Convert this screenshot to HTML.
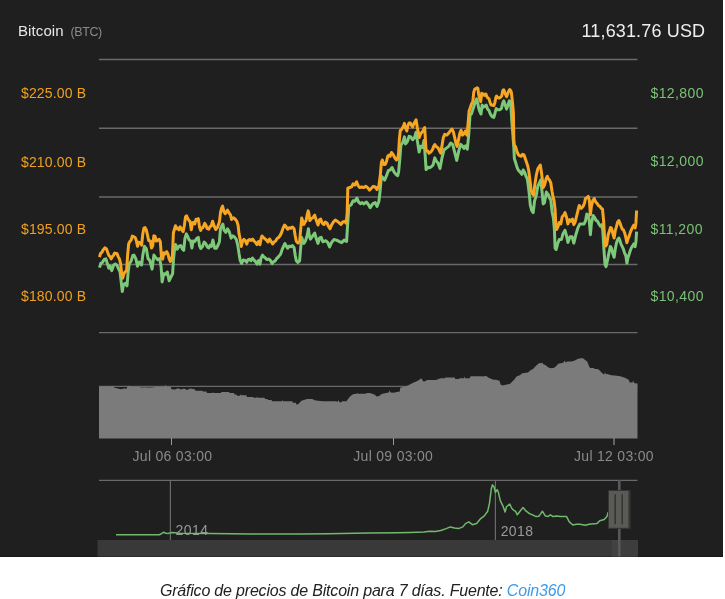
<!DOCTYPE html>
<html><head><meta charset="utf-8">
<style>
html,body{margin:0;padding:0;background:#fff;}
body{width:725px;height:599px;position:relative;overflow:hidden;font-family:"Liberation Sans",sans-serif;}
#panel{position:absolute;left:0;top:0;width:723px;height:556px;background:#1f1f1f;border-bottom:1px solid #161616;}
svg{position:absolute;left:0;top:0;will-change:transform;}
.cap{position:absolute;left:0;width:725px;top:581.7px;letter-spacing:-0.19px;text-align:center;font-style:italic;font-size:16px;color:#222;white-space:nowrap;}
.cap span{color:#3d9be9;}
</style></head>
<body>
<div id="panel"></div>
<svg width="725" height="599" viewBox="0 0 725 599" font-family="Liberation Sans, sans-serif">
  <g stroke="#6a6a6a" stroke-width="1.4">
    <line x1="99" y1="59.5" x2="637.5" y2="59.5"/>
    <line x1="99" y1="128.3" x2="637.5" y2="128.3"/>
    <line x1="99" y1="197" x2="637.5" y2="197"/>
    <line x1="99" y1="264.5" x2="637.5" y2="264.5"/>
    <line x1="99" y1="332.6" x2="637.5" y2="332.6"/>
  </g>
  <text x="18" y="35.8" fill="#e6e6e6" font-size="15" letter-spacing="0.1">Bitcoin</text>
  <text x="70.6" y="35.8" fill="#8a8a8a" font-size="12.5" letter-spacing="-0.45">(BTC)</text>
  <text x="581.5" y="36.6" fill="#eeeeee" font-size="18" letter-spacing="0.15">11,631.76 USD</text>
  <g fill="#f0a020" font-size="14" letter-spacing="0.15">
    <text x="21" y="98">$225.00 B</text>
    <text x="21" y="166.7">$210.00 B</text>
    <text x="21" y="234.2">$195.00 B</text>
    <text x="21" y="301.3">$180.00 B</text>
  </g>
  <g fill="#7ac276" font-size="14" letter-spacing="0.4">
    <text x="650.5" y="97.9">$12,800</text>
    <text x="650.5" y="166.3">$12,000</text>
    <text x="650.5" y="233.9">$11,200</text>
    <text x="650.5" y="301.3">$10,400</text>
  </g>
  <polyline points="99.5,267.7 100.7,263.6 102.4,262.4 104.2,259.5 105.9,258.9 107.7,264.7 108.9,268.2 110.0,265.9 111.8,270.6 113.5,265.3 115.3,264.1 117.0,265.3 118.8,269.4 120.0,271.7 121.1,281.1 122.3,291.6 123.5,284.6 125.2,283.4 127.0,285.8 128.2,271.7 129.3,263.6 131.1,261.2 132.8,255.4 134.0,255.1 135.8,258.6 137.5,266.2 139.3,262.1 141.6,265.0 142.8,255.1 144.5,246.3 146.3,248.6 148.0,258.6 149.8,260.3 152.1,269.1 153.9,255.1 155.6,257.4 157.4,259.7 159.7,258.6 161.1,266.7 162.1,281.9 163.8,273.8 165.6,274.3 167.3,272.0 169.1,280.8 170.8,277.3 172.6,273.8 173.5,259.7 174.3,251.4 175.5,244.4 177.3,249.1 179.0,246.2 180.8,245.6 182.5,249.1 183.7,250.3 184.9,238.6 186.3,233.9 187.8,236.8 189.0,239.7 190.7,240.9 191.9,247.9 193.1,240.9 194.8,241.5 196.6,238.6 198.3,237.4 199.5,245.6 200.7,248.5 202.4,246.7 204.2,242.1 205.9,243.8 207.1,246.7 208.8,247.9 210.0,245.3 211.4,246.4 212.9,240.0 214.7,248.2 216.4,248.2 218.2,244.7 219.4,241.7 220.5,228.9 221.7,226.0 222.9,224.2 224.0,230.1 225.8,232.4 227.5,228.9 229.3,231.8 231.1,238.2 232.8,235.9 234.6,237.1 236.3,239.4 237.8,245.3 239.0,253.4 240.2,260.4 241.6,263.4 243.3,259.9 245.1,260.4 246.8,262.2 248.0,259.6 249.5,259.1 251.0,260.6 252.5,258.1 254.0,260.1 255.5,261.6 257.0,264.1 258.5,260.6 260.0,264.1 261.0,258.1 262.5,255.1 264.0,257.1 265.5,258.1 267.0,259.6 268.6,259.1 270.1,260.1 272.1,263.6 273.6,261.6 275.1,261.1 276.6,258.6 278.6,256.6 280.6,254.1 282.1,249.6 283.6,246.1 284.9,243.5 286.0,245.6 287.6,248.3 289.3,246.1 290.9,246.7 292.5,245.6 294.1,247.7 295.2,255.3 296.3,260.8 297.9,262.4 299.6,260.8 300.6,248.8 301.7,237.4 302.8,240.7 303.9,243.4 305.5,240.7 307.1,235.8 308.4,228.8 309.3,235.8 310.4,239.1 312.0,236.9 313.6,234.7 314.7,233.1 316.4,239.1 318.0,243.4 319.6,238.0 321.2,237.4 322.9,241.8 324.0,241.4 325.9,240.7 327.8,242.6 329.6,247.0 331.5,242.6 334.0,239.5 336.5,240.1 339.0,241.4 341.6,242.6 344.1,240.1 346.6,241.4 347.6,225.1 348.8,206.3 351.0,205.0 353.1,200.7 354.7,201.3 356.9,198.2 358.5,201.9 360.4,203.8 362.0,202.6 363.9,203.9 366.4,202.0 368.3,204.5 370.2,207.6 372.7,203.9 375.2,202.6 377.0,206.4 378.9,201.3 380.2,190.1 381.4,176.3 382.7,177.6 384.6,180.1 386.5,175.7 388.3,170.7 390.2,170.0 392.1,167.5 394.0,171.9 395.9,174.4 397.7,175.7 398.6,172.0 399.8,159.1 400.9,145.1 402.7,142.7 404.4,136.9 405.6,143.9 407.4,141.6 409.1,136.3 410.9,136.9 412.6,139.8 414.4,138.0 416.1,132.2 417.3,140.4 419.1,152.1 420.8,146.2 422.6,147.4 424.0,140.4 425.1,154.4 426.1,169.6 427.8,167.3 429.6,167.8 431.3,166.7 433.1,164.9 434.8,157.9 436.2,160.8 438.0,163.1 440.0,168.5 442.0,157.8 444.0,149.8 446.0,148.4 448.7,146.4 450.7,143.1 452.7,144.4 454.7,152.4 456.7,160.4 458.7,151.1 460.7,144.4 462.7,146.4 464.0,148.4 465.6,145.8 467.3,149.1 468.7,135.1 469.6,121.7 470.0,115.3 471.4,114.0 473.4,107.8 475.2,102.3 476.6,98.8 477.6,102.3 478.6,107.8 479.7,111.2 481.0,114.0 482.1,105.0 483.4,107.1 484.8,106.4 486.2,105.0 487.6,109.1 489.0,110.5 490.3,114.0 492.1,116.7 493.8,117.4 494.8,114.0 496.2,108.5 497.6,109.8 499.7,109.8 501.4,108.5 502.8,102.9 503.8,100.9 505.2,105.0 506.6,109.1 508.0,105.0 509.3,100.9 510.3,101.6 511.0,107.8 511.4,114.0 511.7,120.0 512.5,130.0 513.8,147.5 514.4,158.8 515.6,162.5 516.9,166.9 518.2,170.0 520.0,171.9 521.9,174.4 523.2,170.0 524.8,172.6 526.0,176.3 527.3,178.8 528.2,185.1 529.4,195.1 530.3,205.1 531.6,210.1 533.2,212.6 534.5,201.3 536.3,195.1 537.8,186.3 539.5,182.6 540.7,180.1 542.0,191.3 543.2,203.9 544.5,202.6 546.4,192.0 547.6,193.8 548.5,195.0 549.4,197.7 550.8,199.8 552.0,211.2 553.4,218.2 554.4,229.6 555.1,248.0 556.2,249.5 557.6,243.8 559.3,239.5 561.5,239.5 562.9,233.9 565.0,230.3 566.4,235.3 567.9,242.4 570.0,236.7 572.1,236.7 573.8,243.1 575.7,235.3 577.8,228.2 579.9,223.9 582.0,223.9 584.0,224.0 585.4,221.2 586.8,214.1 588.3,214.8 589.4,221.9 590.4,234.7 591.4,223.3 593.2,215.5 594.7,217.6 596.1,220.5 597.5,221.2 598.9,224.0 600.4,226.2 601.8,224.7 602.8,230.4 603.9,248.9 605.0,264.5 606.0,266.6 607.5,260.2 608.9,253.1 610.3,246.5 611.4,247.9 612.9,253.8 614.1,257.3 615.3,249.1 616.4,243.2 617.6,239.7 618.8,238.0 619.9,240.3 621.1,244.4 622.3,246.7 623.4,249.1 624.6,253.2 625.8,255.5 626.9,263.1 628.1,257.3 629.3,253.8 630.4,250.3 631.6,247.3 632.8,245.6 633.9,243.8 635.1,246.7 635.9,242.1 636.6,231.6" fill="none" stroke="#7ec87a" stroke-width="3" stroke-linejoin="round" stroke-linecap="butt"/>
  <polyline points="99.5,257.1 100.7,253.0 101.8,252.5 103.0,250.1 104.8,247.8 106.5,249.0 107.7,252.5 108.9,255.4 110.0,256.6 111.2,258.9 112.4,256.6 113.5,255.4 114.7,253.0 115.9,253.6 117.0,253.6 118.2,256.6 119.4,258.9 120.6,263.6 121.7,274.1 122.7,278.2 123.8,274.1 125.2,271.7 126.6,270.6 127.6,255.4 128.7,243.7 129.9,241.4 131.1,240.2 132.3,236.1 133.4,236.7 134.0,236.9 135.2,237.5 136.3,240.5 137.5,246.3 138.7,242.2 140.4,242.8 141.6,245.1 142.8,234.0 143.9,228.2 145.1,227.6 146.3,229.9 147.5,235.2 148.6,240.5 150.4,241.0 151.5,248.0 152.7,245.7 153.9,235.8 155.1,236.4 156.2,241.0 157.4,240.5 159.1,239.3 160.3,241.6 161.5,257.4 162.7,259.1 163.8,252.7 165.0,253.9 166.7,251.6 167.9,253.9 169.1,258.6 170.3,261.5 171.4,258.6 172.4,256.2 173.4,232.7 174.3,229.8 175.5,225.7 176.7,228.6 177.8,228.0 179.0,229.8 180.2,226.9 181.9,229.8 183.1,231.6 184.3,225.7 185.5,216.9 186.6,215.8 187.8,218.7 189.0,220.5 190.1,221.6 191.3,229.8 192.5,222.8 193.6,222.2 194.8,224.0 196.0,219.3 197.1,220.5 198.3,218.7 199.5,226.9 200.7,230.4 201.8,228.0 203.0,227.5 204.7,223.4 205.9,225.1 207.1,228.6 208.8,229.2 210.0,226.6 211.2,226.0 212.6,221.3 214.1,226.0 215.8,229.5 217.6,227.1 219.4,221.9 220.5,212.5 221.7,207.9 222.6,206.1 223.8,211.4 225.2,213.7 226.4,211.4 227.5,210.2 228.7,212.5 230.5,214.9 231.6,219.5 233.4,217.8 235.1,219.0 236.9,221.3 238.1,225.4 239.0,233.6 240.2,239.4 241.3,246.4 242.5,241.2 243.9,239.4 245.1,240.6 246.8,244.1 248.0,240.5 249.5,239.5 251.0,240.5 252.5,239.0 254.0,241.0 255.5,242.5 257.0,244.6 258.5,241.5 260.0,244.6 261.0,239.0 262.0,236.0 263.5,237.5 265.0,239.0 266.5,240.0 268.0,242.0 269.6,239.0 271.1,241.5 272.6,244.0 274.1,242.0 275.6,241.0 277.1,238.5 278.6,237.5 280.1,235.5 281.6,232.5 283.1,228.0 284.6,225.0 286.0,226.6 287.6,229.3 289.3,227.7 290.9,228.2 292.5,227.1 294.1,228.8 295.2,235.8 296.3,241.2 297.9,242.9 299.6,241.8 300.6,230.4 301.7,217.9 302.8,221.2 303.9,224.4 305.0,222.2 306.1,220.6 307.1,215.2 308.2,210.9 309.0,214.1 309.8,220.6 311.5,218.4 313.1,217.4 314.7,215.2 316.4,220.6 318.0,225.0 319.6,219.5 320.7,219.0 321.8,222.2 322.9,223.9 324.0,224.5 325.3,222.0 327.1,223.2 328.4,226.3 330.0,228.8 331.5,225.1 333.4,222.0 335.3,220.1 337.2,221.3 339.0,222.6 340.9,224.5 342.8,222.0 344.7,221.3 346.3,223.2 347.2,212.6 347.8,188.1 349.7,187.5 351.6,186.9 353.1,183.8 354.7,185.0 356.6,181.9 358.1,185.6 359.7,187.5 362.0,187.0 363.9,187.6 365.8,186.3 367.6,187.6 369.5,190.1 371.4,188.2 373.3,186.3 375.2,187.0 377.0,189.5 378.9,185.7 380.2,176.3 381.4,162.5 382.3,160.0 383.6,164.4 385.2,164.4 386.5,161.3 387.7,156.3 389.0,155.0 390.2,156.3 391.5,152.5 393.1,154.4 394.6,157.5 396.5,160.0 397.7,158.8 398.6,153.0 399.4,139.2 400.3,130.5 401.7,129.3 403.3,126.4 404.4,123.4 405.6,128.1 406.8,131.0 407.9,125.8 409.1,122.9 410.3,122.9 411.5,125.2 412.6,126.9 413.8,124.0 415.0,121.7 416.1,119.9 417.3,127.5 418.5,133.4 419.3,137.5 420.8,133.4 422.0,132.2 423.1,130.5 424.7,127.5 425.5,141.6 426.1,150.9 427.8,150.9 429.0,153.2 430.7,152.1 432.5,149.7 433.7,146.2 434.8,144.5 436.0,146.4 438.0,147.8 439.3,150.4 440.7,153.1 442.0,145.8 443.3,137.7 444.7,134.4 446.7,135.1 448.7,133.1 450.7,130.4 452.0,129.1 453.3,131.7 454.7,137.7 456.0,143.7 457.1,146.4 458.4,140.4 459.7,133.7 461.1,130.4 462.4,135.1 464.0,133.7 465.3,131.1 466.9,135.1 468.0,124.4 469.1,111.0 470.0,108.4 471.4,104.3 472.8,101.6 473.8,91.9 474.8,89.1 476.2,88.4 477.2,87.8 477.9,88.4 478.6,94.0 479.7,98.8 480.7,101.6 481.7,93.3 482.8,95.3 483.8,94.0 484.8,95.3 485.9,94.0 486.9,96.7 487.9,98.1 489.0,98.8 490.0,102.2 491.0,105.0 492.1,105.0 493.8,105.7 494.8,102.9 495.9,97.4 496.6,96.0 497.6,97.4 499.0,98.1 500.3,97.4 501.7,96.0 502.8,90.5 503.8,89.8 504.8,92.6 505.9,95.3 506.6,96.7 507.6,94.0 508.6,91.2 509.7,89.5 510.7,90.5 511.4,92.6 512.1,98.8 512.8,105.7 513.4,112.6 513.8,140.0 514.4,145.0 515.6,146.9 516.9,151.3 518.2,154.4 519.4,155.6 521.3,156.3 522.5,154.4 524.0,155.0 525.3,158.8 526.6,162.5 527.8,166.3 528.8,171.3 530.1,181.3 531.1,190.1 532.3,193.8 533.6,195.1 534.8,185.1 536.3,175.1 537.8,168.8 539.1,166.9 540.3,165.0 541.3,171.3 542.4,180.1 543.2,187.6 544.5,185.1 546.1,178.8 547.4,176.3 548.0,178.5 549.4,179.9 550.8,182.8 552.0,191.3 553.0,197.0 554.0,200.5 555.1,209.7 555.8,223.9 556.5,229.6 557.9,226.8 559.3,222.5 560.8,223.9 562.2,216.8 563.6,215.4 565.0,212.6 566.4,216.8 567.9,223.9 569.3,219.7 570.7,221.1 572.4,219.0 573.8,224.6 575.0,222.5 576.4,216.8 577.8,211.2 579.2,205.5 581.3,208.3 583.2,206.2 584.6,203.0 585.4,198.5 586.8,197.8 588.3,196.4 589.4,200.6 590.4,214.8 591.4,206.3 592.8,200.6 594.2,198.5 595.7,202.0 597.1,203.4 598.5,205.6 599.9,206.3 601.3,208.4 602.5,209.1 603.6,220.5 604.6,238.9 605.6,246.0 606.7,244.6 608.2,234.7 609.6,230.4 610.5,227.5 611.4,228.0 612.9,233.9 614.1,238.0 615.3,230.4 616.4,226.9 617.6,222.2 618.8,220.5 619.9,222.8 621.1,226.3 622.3,229.2 623.4,229.8 624.6,232.7 625.8,237.4 626.9,242.7 628.1,238.6 629.3,235.6 630.4,232.1 631.6,229.2 632.8,226.9 633.9,225.1 635.1,228.0 635.9,223.4 636.6,210.5" fill="none" stroke="#f6a623" stroke-width="3" stroke-linejoin="round" stroke-linecap="butt"/>
  <line x1="99" y1="386.3" x2="637.5" y2="386.3" stroke="#6a6a6a" stroke-width="1.2"/>
  <polygon points="99.0,438.6 99.0,386.4 113.5,386.5 114.5,387.8 118.0,388.5 121.0,389.2 124.0,388.4 126.5,388.8 127.5,386.2 129.0,385.7 130.5,386.4 132.0,386.7 140.0,386.7 141.0,387.5 145.0,387.2 149.0,387.6 154.0,387.3 155.0,386.7 164.6,386.7 165.3,384.4 166.0,386.7 170.7,386.7 171.5,389.2 175.0,389.5 178.0,388.3 181.0,389.5 184.0,388.5 187.0,390.0 190.0,388.5 194.7,389.2 195.5,390.8 202.2,390.8 203.0,391.6 206.3,391.6 207.0,392.9 212.5,392.9 213.0,391.8 213.5,392.9 220.8,392.9 221.5,392.0 229.0,392.0 229.5,393.1 234.0,393.1 234.5,394.5 236.5,394.5 237.0,395.7 239.8,395.7 240.5,394.3 241.0,395.3 246.4,395.3 247.0,397.0 253.0,397.0 253.5,397.8 256.5,397.8 257.0,396.6 257.5,397.8 264.6,397.8 265.0,399.1 267.5,399.1 268.0,400.1 271.6,400.1 272.0,401.2 282.0,401.2 282.5,400.0 283.0,401.2 292.3,401.2 292.8,402.8 295.6,402.8 296.9,404.7 298.9,403.6 301.4,400.7 303.9,399.9 307.2,399.1 312.2,399.1 314.7,400.3 318.0,400.7 323.0,401.2 336.6,401.2 337.0,402.2 338.5,400.2 339.5,402.2 341.5,402.2 342.0,401.2 346.5,401.2 347.3,400.0 349.8,396.7 351.5,395.3 353.1,394.2 356.4,393.8 357.2,393.0 358.0,393.8 365.5,393.8 367.2,393.1 369.7,393.1 373.8,394.2 375.0,394.9 376.7,396.5 379.1,396.1 381.6,394.0 384.9,393.2 388.7,392.4 389.5,390.5 390.5,392.6 394.0,392.8 396.5,392.0 399.8,391.5 400.2,387.8 403.1,387.0 406.5,386.2 409.8,384.5 413.1,382.8 416.4,381.6 419.7,379.5 421.4,378.3 423.0,381.2 424.7,381.6 427.2,379.9 435.0,379.9 437.5,379.7 438.0,378.7 440.0,378.7 440.5,378.3 444.9,378.3 445.3,377.4 454.8,377.4 455.2,379.1 459.0,379.1 459.5,378.3 464.0,378.3 464.5,376.5 465.2,378.3 469.7,378.3 470.6,376.2 481.3,376.2 481.8,376.6 486.2,376.1 488.3,377.4 491.6,379.0 493.3,379.8 495.8,379.8 499.5,380.7 500.7,384.8 503.2,385.6 506.5,384.4 509.8,384.0 512.3,381.5 514.8,379.0 516.5,376.5 519.8,375.3 522.3,373.2 528.0,372.4 530.5,370.3 533.0,369.1 535.5,366.2 538.0,363.9 539.6,363.1 542.1,363.3 542.5,362.2 543.0,364.1 545.8,365.3 548.3,367.4 551.6,368.2 554.1,367.8 556.6,365.7 558.2,363.7 563.2,362.8 564.8,360.4 565.5,362.5 567.3,361.6 571.5,361.6 574.8,360.4 578.1,358.7 580.6,358.3 583.0,358.3 585.1,359.9 587.2,361.6 588.4,364.5 589.7,367.4 590.0,368.0 593.8,368.0 594.6,369.1 597.6,369.1 599.9,370.6 601.4,372.5 604.0,374.4 605.2,372.2 605.8,374.3 607.5,374.0 611.2,375.2 615.0,375.6 620.3,376.3 624.9,377.8 628.7,379.7 629.8,382.4 632.5,382.4 633.2,380.2 633.8,382.6 634.8,383.2 637.5,383.5 637.5,438.6" fill="#7b7b7b"/>
  <g stroke="#999" stroke-width="1">
    <line x1="171.5" y1="438" x2="171.5" y2="445"/>
    <line x1="393.5" y1="438" x2="393.5" y2="445"/>
    <line x1="614" y1="438" x2="614" y2="445" stroke="#8a8a8a" stroke-width="1.3"/>
  </g>
  <g fill="#8a8a8a" font-size="14" letter-spacing="0.3">
    <text x="132.5" y="460.7">Jul 06 03:00</text>
    <text x="353.3" y="460.7">Jul 09 03:00</text>
    <text x="574" y="460.7">Jul 12 03:00</text>
  </g>
  <!-- navigator -->
  <line x1="99" y1="480.4" x2="637.5" y2="480.4" stroke="#6a6a6a" stroke-width="1.3"/>
  <line x1="170.4" y1="480.4" x2="170.4" y2="540" stroke="#6a6a6a" stroke-width="1.2"/>
  <line x1="495.4" y1="480.4" x2="495.4" y2="540" stroke="#6a6a6a" stroke-width="1.2"/>
  <g fill="#9a9a9a" font-size="14" letter-spacing="0.4">
    <text x="175.6" y="535.4">2014</text>
    <text x="500.7" y="535.5">2018</text>
  </g>
  <polyline points="116.0,534.8 159.3,534.8 161.0,534.0 163.4,532.3 166.0,533.2 168.0,533.5 171.0,532.6 175.0,532.8 180.0,533.2 210.0,533.4 250.0,534.0 300.0,534.1 327.6,533.8 369.0,533.0 396.6,532.7 410.3,532.4 424.1,531.9 429.7,531.3 435.2,531.6 440.7,530.5 446.2,528.6 450.3,526.9 454.5,528.0 458.6,528.6 462.8,526.9 465.5,523.6 468.8,521.9 472.4,524.7 476.6,523.6 480.7,518.6 484.3,515.9 487.7,511.2 489.5,503.1 491.3,488.8 492.5,484.8 494.0,487.0 495.4,492.3 497.2,489.7 498.4,492.3 500.2,500.4 502.9,505.8 505.1,512.1 506.5,506.7 509.7,504.0 511.9,508.5 513.7,510.3 515.5,511.2 517.3,514.8 520.0,511.2 523.0,507.6 526.2,511.2 529.8,513.9 532.5,514.8 536.1,516.6 538.8,516.2 540.6,513.9 542.4,511.2 545.1,515.7 547.8,516.6 550.4,514.8 553.1,516.6 556.7,516.0 560.3,516.6 566.6,516.6 569.3,521.9 572.9,525.0 576.4,524.3 580.0,524.3 585.4,525.2 589.0,524.3 594.4,523.7 597.1,523.4 599.8,520.7 604.2,519.6 606.9,516.6 608.2,512.1" fill="none" stroke="#72b96e" stroke-width="1.5" stroke-linejoin="round"/>
  <rect x="97.5" y="540" width="540.5" height="16.6" fill="#393939"/>
  <rect x="611.6" y="540" width="6.5" height="16.6" fill="#424242"/>
  <rect x="620.5" y="540" width="17.5" height="16.6" fill="#3d3d3d"/>
  <rect x="618" y="480" width="2.6" height="76.6" fill="#585858"/>
  <rect x="608" y="490" width="22.6" height="38.9" fill="#363636"/>
  <rect x="609" y="491" width="19.4" height="36.8" fill="#5a5a56"/>
  <line x1="615.2" y1="494.2" x2="615.2" y2="524.3" stroke="#303030" stroke-width="1.4"/>
  <line x1="622.2" y1="494.2" x2="622.2" y2="524.3" stroke="#303030" stroke-width="1.4"/>
</svg>
<div class="cap">Gráfico de precios de Bitcoin para 7 días. Fuente: <span>Coin360</span></div>
</body></html>
